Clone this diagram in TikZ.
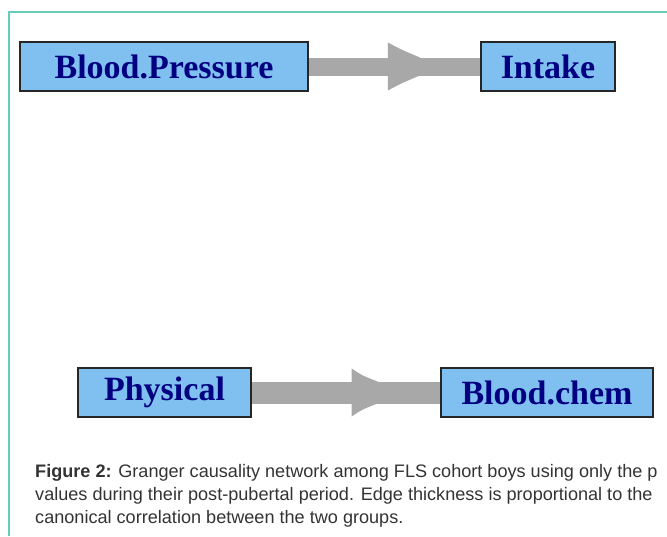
\documentclass[tikz,border=0pt]{standalone}
\usepackage{fontspec}
\setmainfont{Liberation Serif}
\newfontfamily\capfont{Liberation Sans}
\usetikzlibrary{positioning, backgrounds}
\definecolor{boxblue}{RGB}{128,192,240}
\definecolor{labelnavy}{RGB}{0,0,128}
\definecolor{edgegray}{RGB}{168,168,168}
\definecolor{framegreen}{RGB}{102,204,187}
\definecolor{captiongray}{RGB}{51,51,51}

\tikzset{
	varbox/.style={draw=black!85, line width=1.3pt, fill=boxblue, minimum height=49pt, inner sep=0pt,
		font=\fontsize{34}{34}\selectfont\bfseries, text=labelnavy},
	captext/.style={anchor=base west, inner sep=0pt, text=captiongray, font=\capfont\fontsize{18.1}{21}\selectfont},
	pics/edgehead/.style n args={2}{code={
		\fill[edgegray] (0,-24) .. controls (#1*0.4,-17) .. (#1,-#2)
		-- (#1,#2) .. controls (#1*0.4,17) .. (0,24) -- cycle;
	}}
}

\begin{document}
\begin{tikzpicture}[x=1pt, y=-1pt]
	\useasboundingbox (0,0) rectangle (667,536);
	%Frame
	\draw[framegreen, line width=1.2pt] (9,536) -- (9,12) -- (667,12);
	%Variable groups
	\node[varbox, minimum width=288pt] (bp) at (164,66.5) {Blood.Pressure};
	\node[varbox, minimum width=134pt] (in) at (548,66.5) {Intake};
	\node[varbox, minimum width=173pt] (ph) at (164.5,392.5) {Physical};
	\node[varbox, minimum width=212pt] (bc) at (547,392.5) {Blood.chem};
	%Causality edges
	\begin{scope}[on background layer]
		\draw[edgegray, line width=18pt] (bp.east) -- coordinate[pos=0.462] (h1) (in.west);
		\pic at (h1) {edgehead={32}{9}};
		\draw[edgegray, line width=22pt] (ph.east) -- coordinate[pos=0.53] (h2) (bc.west);
		\pic at (h2) {edgehead={26}{11}};
	\end{scope}
	%Caption
	\node[captext] (cap1) at (35,477) {{\bfseries Figure 2:} Granger causality network among FLS cohort boys using only the p};
	\node[captext] (cap2) at (35,500) {values during their post-pubertal period. Edge thickness is proportional to the};
	\node[captext] (cap3) at (35,523) {canonical correlation between the two groups.};
\end{tikzpicture}
\end{document}
